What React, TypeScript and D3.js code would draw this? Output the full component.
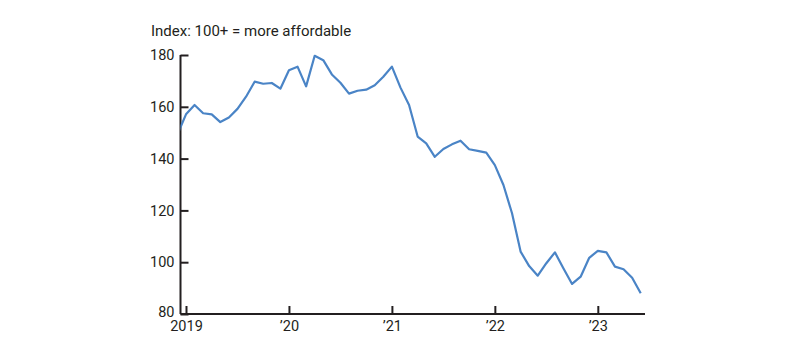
import React, { useEffect, useRef } from 'react';
import * as d3 from 'd3';

// Monthly index, Dec 2018 through Jun 2023
const startYear = 2018;
const startMonth = 11; // December (0-based)
const affordability = [
  149.3, 157.1, 160.7, 157.5, 157.1, 154.1, 155.9, 159.2, 163.9, 169.7, 168.9, 169.2, 167.0,
  174.1, 175.5, 167.9, 179.7, 178.0, 172.5, 169.3, 165.1, 166.2, 166.6, 168.3, 171.6,
  175.5, 167.4, 160.7, 148.5, 145.9, 140.7, 143.7, 145.5, 146.9, 143.6, 143.0, 142.3,
  137.5, 129.8, 118.9, 104.1, 98.5, 94.8, 99.6, 103.8, 97.6, 91.6, 94.4, 101.7,
  104.4, 103.8, 98.3, 97.3, 94.0, 88.0,
];
const yTicks = [80, 100, 120, 140, 160, 180];
const xTickYears = [2019, 2020, 2021, 2022, 2023];
const xTickLabels = ['2019', '\u201920', '\u201921', '\u201922', '\u201923'];
const yTitle = 'Index: 100+ = more affordable';

const App = () => {
  const ref = useRef<SVGSVGElement | null>(null);

  useEffect(() => {
    const svg = d3.select(ref.current);
    svg.selectAll('*').remove();

    const width = 800;
    const height = 355;
    const margin = { top: 55, right: 155, bottom: 41, left: 180.5 };
    const innerW = width - margin.left - margin.right;
    const innerH = height - margin.top - margin.bottom;
    const font = 'Roboto, sans-serif';
    const ink = '#231f20';

    // months since Jan 2019
    const data = affordability.map((v, i) => ({
      m: (startYear - 2019) * 12 + startMonth + i,
      v,
    }));

    const x = d3.scaleLinear().domain([-0.64, 53.5]).range([0, innerW]);
    const y = d3.scaleLinear().domain([80, 180]).range([innerH, 0]);

    const g = svg.append('g').attr('transform', `translate(${margin.left},${margin.top})`);

    svg.append('defs')
      .append('clipPath')
      .attr('id', 'plot-clip')
      .append('rect')
      .attr('x', 0)
      .attr('y', -5)
      .attr('width', innerW)
      .attr('height', innerH + 10);

    // Y axis
    const yAxis = g.append('g')
      .call(d3.axisLeft(y).tickValues(yTicks).tickSize(-8).tickPadding(6));
    yAxis.select('.domain').attr('stroke', ink).attr('stroke-width', 2).attr('d', `M0,0V${innerH}`);
    yAxis.selectAll('.tick line').attr('stroke', ink).attr('stroke-width', 2);
    yAxis.selectAll('text')
      .attr('fill', ink)
      .style('font-family', font)
      .style('font-size', '14.5px');
    // lift the bottom label a touch so it clears the first year label
    yAxis.selectAll<SVGTextElement, number>('text')
      .filter(d => d === 80)
      .attr('y', -2);

    // X axis
    const xAxis = g.append('g')
      .attr('transform', `translate(0,${innerH})`)
      .call(
        d3.axisBottom(x)
          .tickValues(xTickYears.map(yr => (yr - 2019) * 12))
          .tickSize(-8)
          .tickPadding(7)
          .tickFormat((_, i) => xTickLabels[i])
      );
    xAxis.select('.domain').attr('stroke', ink).attr('stroke-width', 2).attr('d', `M0,0H${innerW}`);
    xAxis.selectAll('.tick line').attr('stroke', ink).attr('stroke-width', 2);
    xAxis.selectAll('text')
      .attr('fill', ink)
      .style('font-family', font)
      .style('font-size', '14.5px');

    // Line
    const line = d3.line<{ m: number; v: number }>()
      .x(d => x(d.m))
      .y(d => y(d.v));

    g.append('path')
      .datum(data)
      .attr('clip-path', 'url(#plot-clip)')
      .attr('fill', 'none')
      .attr('stroke', '#4a84c6')
      .attr('stroke-width', 2.2)
      .attr('stroke-linejoin', 'round')
      .attr('d', line);

    // Axis title
    svg.append('text')
      .attr('x', 151)
      .attr('y', 36)
      .attr('fill', ink)
      .style('font-family', font)
      .style('font-size', '15px')
      .text(yTitle);
  }, []);

  return (
    <div style={{ position: 'fixed', left: 0, top: 0 }}>
      <svg ref={ref} width={800} height={355} style={{ display: 'block', background: '#fff' }} />
    </div>
  );
};

export default App;
